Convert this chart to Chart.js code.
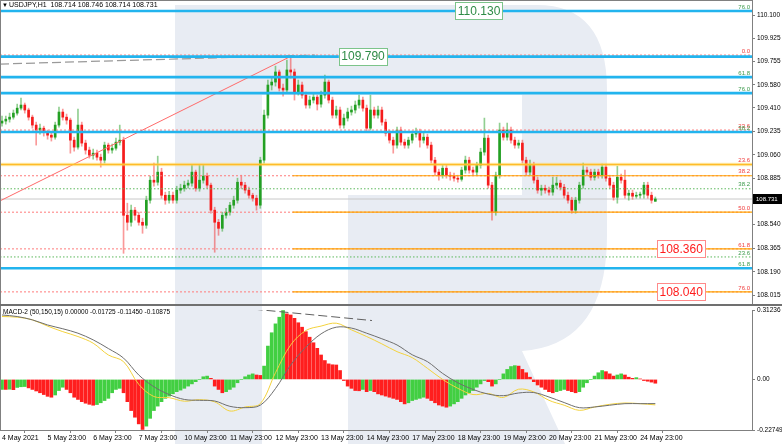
<!DOCTYPE html>
<html><head><meta charset="utf-8">
<script src="https://cdn.jsdelivr.net/npm/chart.js@4.4.1/dist/chart.umd.min.js"></script>
<style>
html,body{margin:0;padding:0;background:#fff;}
#wrap{position:relative;width:782px;height:444px;overflow:hidden;background:#fff}
#wm{position:absolute;left:0;top:0}
#main{position:absolute;left:0;top:0}
#macd{position:absolute;left:0;top:306px}
</style></head><body>
<div id="wrap">
<svg id="wm" width="782" height="444"><path d="M175,5 L537,5 Q607,5 607,90 L607,235 Q607,345 522,351 L565,444 L348,444 L348,195 L522,195 L522,95 L262,95 L262,444 L175,444 Z" fill="#e8ecf3"/></svg>
<canvas id="main" width="782" height="306"></canvas>
<canvas id="macd" width="782" height="138"></canvas>
</div>
<script>
// ---------------- DATA ----------------
const symbolTitle = 'USDJPY,H1';
const lastBarText = '108.714 108.746 108.714 108.731';
const macdTitle = 'MACD-2 (50,150,15) 0.00000 -0.01725 -0.11450 -0.10875';

const dayLabels = ['4 May 2021','5 May 23:00','6 May 23:00','7 May 23:00','10 May 23:00','11 May 23:00','12 May 23:00','13 May 23:00','14 May 23:00','17 May 23:00','18 May 23:00','19 May 23:00','20 May 23:00','21 May 23:00','24 May 23:00'];
const dayTickBars = [0,24,48,72,96,120,144,168,192,216,240,264,288,312,336];
const priceTicks = [110.100,109.925,109.755,109.580,109.410,109.235,109.060,108.885,108.715,108.540,108.365,108.190,108.015];
const macdTicks = [0.31236, 0, -0.22749];

const opens = [
109.296,109.311,109.325,109.340,109.370,109.407,109.430,109.393,109.340,109.281,
109.244,109.258,109.229,109.206,109.191,109.281,109.378,109.340,109.318,109.169,
109.117,109.281,109.147,109.095,109.057,109.072,109.042,109.020,109.132,109.095,
109.109,109.154,109.169,108.610,108.558,108.648,108.610,108.558,108.536,108.722,
108.871,108.856,108.931,108.759,108.722,108.759,108.722,108.797,108.811,108.834,
108.849,108.931,108.811,108.871,108.901,108.834,108.648,108.558,108.513,108.610,
108.633,108.685,108.722,108.856,108.834,108.797,108.759,108.737,108.685,109.020,
109.355,109.579,109.601,109.676,109.556,109.542,109.691,109.676,109.527,109.579,
109.504,109.430,109.467,109.489,109.437,109.504,109.601,109.467,109.355,109.393,
109.281,109.333,109.378,109.393,109.430,109.467,109.407,109.258,109.393,109.355,
109.393,109.303,109.221,109.169,109.132,109.244,109.154,109.132,109.169,109.214,
109.229,109.169,109.191,109.132,109.020,108.931,108.908,108.960,108.908,108.901,
108.886,108.878,108.946,109.020,108.946,108.931,108.983,109.080,109.184,108.834,
108.633,108.908,109.244,109.191,109.244,109.169,109.132,109.147,109.020,108.931,
108.983,108.871,108.797,108.811,108.797,108.782,108.834,108.849,108.819,108.759,
108.722,108.648,108.722,108.834,108.946,108.931,108.893,108.931,108.908,108.968,
108.886,108.834,108.744,108.893,108.871,108.759,108.774,108.752,108.759,108.767,
108.834,108.759,108.714];
const highs = [
109.348,109.348,109.370,109.393,109.437,109.482,109.445,109.407,109.355,109.303,
109.288,109.273,109.244,109.229,109.303,109.415,109.400,109.363,109.333,109.191,
109.400,109.303,109.169,109.117,109.102,109.095,109.065,109.154,109.147,109.139,
109.184,109.281,109.191,108.700,108.685,108.670,108.633,108.588,108.752,108.901,
108.998,109.050,108.960,108.782,108.789,108.782,108.826,108.841,108.864,108.871,
108.983,108.946,108.983,108.983,108.923,108.849,108.670,108.580,108.633,108.662,
108.707,108.752,108.886,108.908,108.856,108.819,108.774,108.759,109.042,109.393,
109.616,109.638,109.720,109.691,109.586,109.765,109.787,109.698,109.616,109.601,
109.527,109.497,109.519,109.504,109.534,109.653,109.616,109.489,109.422,109.415,
109.363,109.407,109.422,109.460,109.504,109.489,109.430,109.504,109.415,109.422,
109.415,109.325,109.244,109.191,109.266,109.266,109.176,109.191,109.236,109.258,
109.251,109.221,109.214,109.154,109.042,108.953,108.983,108.983,108.931,108.923,
108.908,108.968,109.050,109.042,108.968,109.005,109.109,109.333,109.206,108.856,
108.931,109.296,109.266,109.296,109.266,109.191,109.169,109.169,109.042,109.020,
109.005,108.893,108.834,108.834,108.819,108.893,108.893,108.871,108.841,108.782,
108.744,108.744,108.856,108.998,108.968,108.953,108.953,108.953,108.990,108.990,
108.908,108.856,108.975,108.916,108.946,108.797,108.797,108.782,108.782,108.856,
108.856,108.782,108.746];
const lows = [
109.273,109.288,109.303,109.325,109.355,109.393,109.370,109.318,109.258,109.132,
109.214,109.199,109.176,109.162,109.176,109.266,109.318,109.288,109.072,109.087,
109.102,109.124,109.065,109.035,109.027,109.020,108.968,108.998,109.072,109.072,
109.095,109.132,108.327,108.499,108.528,108.573,108.536,108.476,108.513,108.700,
108.826,108.834,108.737,108.692,108.700,108.700,108.700,108.774,108.789,108.811,
108.826,108.789,108.789,108.849,108.811,108.625,108.335,108.461,108.491,108.588,
108.610,108.662,108.700,108.811,108.774,108.737,108.715,108.648,108.662,108.998,
109.333,109.542,109.571,109.534,109.497,109.519,109.631,109.467,109.504,109.482,
109.407,109.407,109.445,109.393,109.415,109.482,109.445,109.333,109.333,109.258,
109.258,109.311,109.355,109.370,109.407,109.385,109.236,109.244,109.333,109.333,
109.281,109.199,109.147,109.072,109.109,109.132,109.109,109.109,109.147,109.191,
109.117,109.147,109.109,108.998,108.908,108.871,108.886,108.886,108.871,108.864,
108.856,108.864,108.923,108.923,108.908,108.908,108.960,109.057,108.811,108.573,
108.610,108.886,109.169,109.169,109.147,109.109,109.109,108.998,108.908,108.908,
108.849,108.774,108.759,108.774,108.759,108.759,108.811,108.797,108.737,108.700,
108.625,108.625,108.700,108.811,108.908,108.871,108.871,108.886,108.886,108.864,
108.811,108.722,108.700,108.849,108.737,108.722,108.729,108.737,108.737,108.737,
108.737,108.700,108.714];
const closes = [
109.311,109.325,109.340,109.370,109.407,109.430,109.393,109.340,109.281,109.244,
109.258,109.229,109.206,109.191,109.281,109.378,109.340,109.318,109.169,109.117,
109.281,109.147,109.095,109.057,109.072,109.042,109.020,109.132,109.095,109.109,
109.154,109.169,108.610,108.558,108.648,108.610,108.558,108.536,108.722,108.871,
108.856,108.931,108.759,108.722,108.759,108.722,108.797,108.811,108.834,108.849,
108.931,108.811,108.871,108.901,108.834,108.648,108.558,108.513,108.610,108.633,
108.685,108.722,108.856,108.834,108.797,108.759,108.737,108.685,109.020,109.355,
109.579,109.601,109.676,109.556,109.542,109.691,109.676,109.527,109.579,109.504,
109.430,109.467,109.489,109.437,109.504,109.601,109.467,109.355,109.393,109.281,
109.333,109.378,109.393,109.430,109.467,109.407,109.258,109.393,109.355,109.393,
109.303,109.221,109.169,109.132,109.244,109.154,109.132,109.169,109.214,109.229,
109.169,109.191,109.132,109.020,108.931,108.908,108.960,108.908,108.901,108.886,
108.878,108.946,109.020,108.946,108.931,108.983,109.080,109.184,108.834,108.633,
108.908,109.244,109.191,109.244,109.169,109.132,109.147,109.020,108.931,108.983,
108.871,108.797,108.811,108.797,108.782,108.834,108.849,108.819,108.759,108.722,
108.648,108.722,108.834,108.946,108.931,108.893,108.931,108.908,108.968,108.886,
108.834,108.744,108.893,108.871,108.759,108.774,108.752,108.759,108.767,108.834,
108.759,108.722,108.731];

const macdHist = [
-0.045,-0.045,-0.044,-0.046,-0.036,-0.033,-0.032,-0.038,-0.045,-0.052,
-0.060,-0.068,-0.076,-0.080,-0.070,-0.050,-0.035,-0.045,-0.060,-0.080,
-0.090,-0.100,-0.107,-0.112,-0.116,-0.113,-0.105,-0.095,-0.085,-0.060,
-0.045,-0.040,-0.060,-0.100,-0.140,-0.170,-0.200,-0.225,-0.210,-0.175,
-0.140,-0.120,-0.100,-0.085,-0.075,-0.065,-0.055,-0.048,-0.040,-0.030,
-0.020,-0.010,0.000,0.012,0.015,0.005,-0.030,-0.045,-0.060,-0.055,
-0.045,-0.035,-0.015,0.000,0.012,0.020,0.025,0.020,0.018,0.060,
0.150,0.210,0.250,0.280,0.310,0.295,0.290,0.275,0.255,0.235,
0.215,0.190,0.165,0.140,0.110,0.085,0.070,0.066,0.065,0.040,
-0.005,-0.030,-0.040,-0.050,-0.051,-0.045,-0.055,-0.050,-0.055,-0.065,
-0.070,-0.075,-0.080,-0.085,-0.090,-0.100,-0.110,-0.105,-0.095,-0.090,
-0.085,-0.080,-0.085,-0.095,-0.105,-0.115,-0.120,-0.125,-0.120,-0.110,
-0.100,-0.085,-0.070,-0.060,-0.050,-0.035,-0.020,-0.005,-0.010,-0.030,
-0.020,0.000,0.025,0.045,0.058,0.062,0.060,0.045,0.030,0.010,
-0.010,-0.025,-0.035,-0.045,-0.055,-0.060,-0.055,-0.050,-0.045,-0.050,
-0.055,-0.060,-0.055,-0.035,-0.015,0.000,0.015,0.030,0.040,0.035,
0.025,0.015,0.020,0.025,0.020,0.010,0.005,0.008,0.002,-0.005,
-0.008,-0.012,-0.017];
const macdMain = [
0.290,0.283,0.268,0.245,0.228,0.208,0.178,0.139,0.096,0.020,
-0.033,-0.068,-0.090,-0.094,-0.097,-0.121,-0.127,-0.116,-0.041,0.065,
0.145,0.205,0.235,0.231,0.208,0.183,0.155,0.111,0.080,0.027,
-0.015,-0.045,-0.066,-0.073,-0.061,-0.059,-0.079,-0.104,-0.127,-0.124,
-0.116,-0.109,-0.109,-0.10875];
const macdSignal = [
0.283,0.280,0.268,0.240,0.215,0.193,0.163,0.110,0.080,-0.022,
-0.077,-0.082,-0.098,-0.091,-0.101,-0.142,-0.124,-0.109,0.030,0.155,
0.220,0.240,0.253,0.223,0.193,0.160,0.125,0.098,0.050,0.000,
-0.040,-0.068,-0.063,-0.081,-0.044,-0.056,-0.094,-0.116,-0.139,-0.124,
-0.112,-0.106,-0.109,-0.1145];

const blueLevels = [110.130, 109.790, 109.638, 109.519, 109.229, 108.216];
const mainLevel = 108.988;
const redDotLevels = [109.802, 109.244, 108.904, 108.633, 108.360, 108.040];
const orangeLevels = [108.904, 108.633, 108.360, 108.040];
const greenDotLevels = [108.807, 108.300];
const lastPrice = 108.731;
const fibTexts  = ['76.0','0.0','61.8','76.0','23.6','38.2','23.6','38.2','38.2','50.0','61.8','23.6','61.8','76.0'];
const fibPrices = [110.130,109.802,109.638,109.519,109.244,109.229,108.988,108.904,108.807,108.633,108.360,108.300,108.216,108.040];
const fibKinds  = ['g','r','g','g','r','g','r','r','g','r','r','g','g','r'];
const boxTexts  = ['110.130','109.790','108.360','108.040'];
const boxPrices = [110.130, 109.790, 108.360, 108.040];
const boxKinds  = ['g','g','r','r'];
const boxBars   = [251.2, 190.1, 357.6, 357.6];
const grayTrendBars = [-1.05, 164.8], grayTrendPrices = [109.735, 109.802];
const redTrendBars = [-1.05, 152.7], redTrendPrices = [108.717, 109.797];
const macdTrendBars = [112, 194.8], macdTrendVals = [0.333, 0.265];

// ---------------- LAYOUT / STYLE ----------------
const BAR_STEP = 2, LINE_STEP = 8, ORANGE_FROM = 153;
const X_MIN = -1.053, X_MAX = 394.9;
const P_MIN = 107.935, P_MAX = 110.2116;
const M_MIN = -0.22749, M_MAX = 0.31236;
const FONT = "'Liberation Sans Narrow','Liberation Sans',Arial,sans-serif";
const COL = {up:'#23a023', down:'#f51c1c', upW:'rgba(35,160,35,0.5)', downW:'rgba(245,28,28,0.45)',
  blue:'#22b4ee', blueDot:'#1580c8', orange:'#ffa200', glow:'rgba(255,220,90,0.45)', red:'#ff7a7a',
  green:'#5cb85c', gTxt:'#3c9a4c', rTxt:'#f03c3c', axis:'#808080'};
Chart.defaults.font.family = FONT;
Chart.defaults.color = '#000';

function hline(y, color, width, dash, x0, x1, order) {
  return {type:'line', data:[{x:x0 ?? X_MIN, y},{x:x1 ?? X_MAX, y}], borderColor:color, borderWidth:width,
    borderDash:dash||[], pointRadius:0, fill:false, tension:0, order: order ?? 0};
}
function seg(xs, ys, color, width, dash) {
  return {type:'line', data:xs.map((x,i)=>({x, y:ys[i]})), borderColor:color, borderWidth:width,
    borderDash:dash||[], pointRadius:0, fill:false, tension:0, order:0};
}

const candleX = closes.map((_, i) => i * BAR_STEP);
const isUp = closes.map((c, i) => c >= opens[i]);

const mainDatasets = [];
redDotLevels.forEach(p => mainDatasets.push(hline(p, COL.red, 1, [2,2], X_MIN, X_MAX, 1)));
greenDotLevels.forEach(p => mainDatasets.push(hline(p, COL.green, 1, [1.5,2], X_MIN, X_MAX, 1)));
mainDatasets.push(hline(lastPrice, '#c8c8c8', 1, [], X_MIN, X_MAX, 4));
orangeLevels.forEach(p => mainDatasets.push(hline(p, COL.orange, 1.2, [], ORANGE_FROM, X_MAX, 0)));
mainDatasets.push(hline(mainLevel, COL.glow, 3.5, [], X_MIN, X_MAX, 0));
mainDatasets.push(hline(mainLevel, COL.orange, 1.5, [], X_MIN, X_MAX, 0));
blueLevels.forEach(p => {
  mainDatasets.push(hline(p, COL.blue, 2.6, [], X_MIN, X_MAX, 0));
  mainDatasets.push(hline(p, COL.blueDot, 1, [2,2], X_MIN, X_MAX, 0));
});
mainDatasets.push(seg(grayTrendBars, grayTrendPrices, '#9a9a9a', 1.2, [9,4]));
mainDatasets.push(seg(redTrendBars, redTrendPrices, '#ff6a6a', 1, []));
mainDatasets.push({type:'bar', data:candleX.map((x,i)=>({x, y:[lows[i], highs[i]]})),
  backgroundColor:isUp.map(u=>u?COL.upW:COL.downW), grouped:false, maxBarThickness:1,
  barPercentage:1, categoryPercentage:1, borderWidth:0, order:3});
mainDatasets.push({type:'bar', data:candleX.map((x,i)=>({x, y:[opens[i], closes[i]]})),
  backgroundColor:isUp.map(u=>u?COL.up:COL.down), grouped:false, maxBarThickness:2,
  barPercentage:1, categoryPercentage:1, borderWidth:0, order:2});

const mainDecor = {
  id:'mainDecor',
  afterDraw(chart) {
    const {ctx, chartArea:a, scales:{x, y}} = chart;
    ctx.save();
    ctx.strokeStyle = COL.axis; ctx.lineWidth = 1;
    ctx.beginPath(); ctx.moveTo(0.5, 0); ctx.lineTo(0.5, a.bottom); ctx.moveTo(0, 0.5); ctx.lineTo(a.right, 0.5); ctx.stroke();
    ctx.strokeStyle = '#707070'; ctx.lineWidth = 2;
    ctx.beginPath(); ctx.moveTo(0, a.bottom - 1); ctx.lineTo(782, a.bottom - 1); ctx.stroke();
    // fib labels
    ctx.font = `6px ${FONT}`; ctx.textAlign = 'right'; ctx.textBaseline = 'bottom';
    fibTexts.forEach((t, i) => {
      ctx.fillStyle = fibKinds[i] === 'g' ? COL.gTxt : COL.rTxt;
      ctx.fillText(t, a.right - 2, y.getPixelForValue(fibPrices[i]) - 1);
    });
    // boxed price labels
    ctx.font = `12px ${FONT}`; ctx.textAlign = 'center'; ctx.textBaseline = 'middle';
    boxTexts.forEach((t, i) => {
      const cx = x.getPixelForValue(boxBars[i]), cy = y.getPixelForValue(boxPrices[i]);
      const w = ctx.measureText(t).width + 5, h = 17;
      ctx.fillStyle = '#fff'; ctx.fillRect(cx - w/2, cy - h/2, w, h);
      ctx.strokeStyle = boxKinds[i] === 'g' ? '#7cc48a' : '#ff8a8a'; ctx.lineWidth = 1;
      ctx.strokeRect(Math.round(cx - w/2) + 0.5, Math.round(cy - h/2) + 0.5, Math.round(w), h);
      ctx.fillStyle = boxKinds[i] === 'g' ? '#2e8b46' : '#ff1c1c';
      ctx.fillText(t, cx, cy + 0.5);
    });
    // header
    ctx.fillStyle = '#000'; ctx.textAlign = 'left'; ctx.textBaseline = 'middle';
    ctx.font = `6px ${FONT}`; ctx.fillText('\u25BC', 2, 5.5);
    ctx.font = `7px ${FONT}`; ctx.fillText(symbolTitle + '  ' + lastBarText, 9, 5.5);
    // price tag
    const py = y.getPixelForValue(lastPrice);
    ctx.fillStyle = '#000'; ctx.fillRect(a.right + 1, py - 5, 782 - a.right - 1, 10);
    ctx.fillStyle = '#fff'; ctx.font = `6px ${FONT}`; ctx.fillText(lastPrice.toFixed(3), a.right + 4, py + 0.5);
    ctx.restore();
  }
};

new Chart(document.getElementById('main'), {
  type:'bar',
  data:{datasets: mainDatasets},
  options:{
    responsive:false, animation:false, devicePixelRatio:1,
    layout:{padding:0},
    plugins:{legend:{display:false}, tooltip:{enabled:false}},
    scales:{
      x:{type:'linear', min:X_MIN, max:X_MAX, display:false, offset:false},
      y:{type:'linear', position:'right', min:P_MIN, max:P_MAX,
        afterBuildTicks: s => { s.ticks = priceTicks.map(v => ({value:v})); },
        afterFit: s => { s.width = 30; s.paddingTop = 0; s.paddingBottom = 0; },
        ticks:{callback: v => Number(v).toFixed(3), font:{size:6.5}, padding:2, color:'#000'},
        grid:{drawOnChartArea:false, drawTicks:true, tickLength:3, color:COL.axis},
        border:{display:true, color:COL.axis}}
    }
  },
  plugins:[mainDecor]
});

// ---------------- MACD ----------------
const histColors = macdHist.map((v, i) => (i === 0 || v > macdHist[i-1]) ? '#42cf42' : '#ff1e1e');
const macdDecor = {
  id:'macdDecor',
  afterDraw(chart) {
    const {ctx, chartArea:a} = chart;
    ctx.save();
    ctx.strokeStyle = COL.axis; ctx.lineWidth = 1;
    ctx.beginPath(); ctx.moveTo(0.5, 0); ctx.lineTo(0.5, a.bottom); ctx.stroke();
    ctx.fillStyle = '#000'; ctx.font = `6.5px ${FONT}`; ctx.textAlign = 'left'; ctx.textBaseline = 'middle';
    ctx.fillText(macdTitle, 3, 6);
    ctx.restore();
  }
};
new Chart(document.getElementById('macd'), {
  type:'bar',
  data:{datasets:[
    {type:'line', data:macdMain.map((v,i)=>({x:i*LINE_STEP, y:v})), borderColor:'#6e6e6e', borderWidth:1, pointRadius:0, tension:0.35, order:0},
    {type:'line', data:macdSignal.map((v,i)=>({x:i*LINE_STEP, y:v})), borderColor:'#f3d23c', borderWidth:1, pointRadius:0, tension:0.35, order:0},
    {type:'line', data:macdTrendBars.map((x,i)=>({x, y:macdTrendVals[i]})), borderColor:'#606060', borderWidth:1, borderDash:[9,4], pointRadius:0, order:0},
    {type:'bar', data:macdHist.map((v,i)=>({x:i*BAR_STEP, y:v})), backgroundColor:histColors, grouped:false,
      maxBarThickness:3, barPercentage:1, categoryPercentage:1, borderWidth:0, order:2}
  ]},
  options:{
    responsive:false, animation:false, devicePixelRatio:1,
    layout:{padding:{top:4, left:0, right:0, bottom:0}},
    plugins:{legend:{display:false}, tooltip:{enabled:false}},
    scales:{
      x:{type:'linear', min:X_MIN, max:X_MAX, offset:false,
        afterBuildTicks: s => { s.ticks = dayTickBars.map(v => ({value:v})); },
        afterFit: s => { s.height = 14; s.paddingLeft = 0; s.paddingRight = 0; },
        ticks:{callback:(v, i) => dayLabels[i], align:'start', autoSkip:false, maxRotation:0, font:{size:7}, padding:1, color:'#000'},
        grid:{drawOnChartArea:false, drawTicks:true, tickLength:3, color:COL.axis},
        border:{display:true, color:COL.axis}},
      y:{type:'linear', position:'right', min:M_MIN, max:M_MAX,
        afterBuildTicks: s => { s.ticks = macdTicks.map(v => ({value:v})); },
        afterFit: s => { s.width = 30; s.paddingTop = 0; s.paddingBottom = 0; },
        ticks:{callback: v => v === 0 ? '0.00' : Number(v).toFixed(5), font:{size:6.5}, padding:2, color:'#000'},
        grid:{drawOnChartArea:false, drawTicks:true, tickLength:3, color:COL.axis},
        border:{display:true, color:COL.axis}}
    }
  },
  plugins:[macdDecor]
});
</script></body></html>
